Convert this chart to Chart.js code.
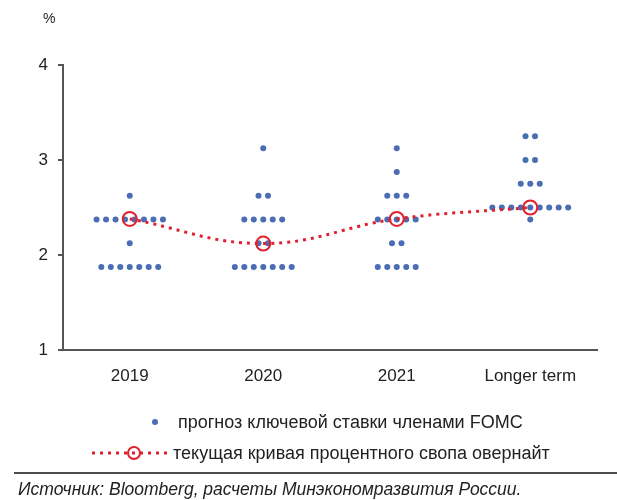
<!DOCTYPE html>
<html>
<head>
<meta charset="utf-8">
<script src="https://cdn.jsdelivr.net/npm/chart.js@4.4.1/dist/chart.umd.min.js"></script>
<style>
  html, body { margin: 0; padding: 0; background: #fff; }
  #wrap { width: 617px; height: 500px; }
</style>
</head>
<body>
<div id="wrap"><canvas id="fomc-chart"></canvas></div>
<script>
// Horizon labels on the x axis
const categories = ['2019', '2020', '2021', 'Longer term'];

// FOMC dot plot: rate levels and number of members at each level
const rates2019 = [1.875, 2.125, 2.375, 2.625];
const members2019 = [7, 1, 8, 1];
const rates2020 = [1.875, 2.125, 2.375, 2.625, 3.125];
const members2020 = [7, 2, 5, 2, 1];
const rates2021 = [1.875, 2.125, 2.375, 2.625, 2.875, 3.125];
const members2021 = [5, 2, 5, 3, 1, 1];
const ratesLonger = [2.375, 2.5, 2.75, 3.0, 3.25];
const membersLonger = [1, 9, 3, 2, 2];

// Overnight index swap curve, %
const swapCurve = [2.38, 2.12, 2.38, 2.50];

const yTicks = [1, 2, 3, 4];

const dotLabel = 'прогноз ключевой ставки членами FOMC';
const curveLabel = 'текущая кривая процентного свопа овернайт';
const sourceText = 'Источник: Bloomberg, расчеты Минэкономразвития России.';

const BLUE = '#4a6db3';
const RED = '#e0212d';
const AXIS = '#555';
const FONT = "'Liberation Sans', Arial, sans-serif";
const DOT_STEP = 0.071; // horizontal gap between dots in one row, in category units

// Spread dots of the same rate side by side around the category centre
function buildDots() {
  const groups = [
    [rates2019, members2019],
    [rates2020, members2020],
    [rates2021, members2021],
    [ratesLonger, membersLonger]
  ];
  const points = [];
  groups.forEach(([rates, members], i) => {
    rates.forEach((rate, k) => {
      const n = members[k];
      for (let j = 0; j < n; j++) {
        points.push({ x: i + (j - (n - 1) / 2) * DOT_STEP, y: rate });
      }
    });
  });
  return points;
}

// Draws the "%" unit, the legend and the source note
const extras = {
  id: 'extras',
  afterDraw(chart) {
    const ctx = chart.ctx;
    ctx.save();
    ctx.fillStyle = '#222';
    ctx.textBaseline = 'middle';
    ctx.textAlign = 'left';

    ctx.font = `14px ${FONT}`;
    ctx.fillText('%', 43, 19);

    // legend row 1: FOMC dots
    ctx.font = `18px ${FONT}`;
    ctx.fillStyle = BLUE;
    ctx.beginPath();
    ctx.arc(155, 422, 3, 0, Math.PI * 2);
    ctx.fill();
    ctx.fillStyle = '#222';
    ctx.fillText(dotLabel, 178, 423);

    // legend row 2: swap curve
    ctx.strokeStyle = RED;
    ctx.lineWidth = 3;
    ctx.setLineDash([3, 5]);
    ctx.beginPath();
    ctx.moveTo(92, 453);
    ctx.lineTo(170, 453);
    ctx.stroke();
    ctx.setLineDash([]);
    ctx.lineWidth = 2;
    ctx.beginPath();
    ctx.arc(134, 453, 6, 0, Math.PI * 2);
    ctx.stroke();
    ctx.fillText(curveLabel, 173, 454);

    // source note
    ctx.strokeStyle = '#111';
    ctx.lineWidth = 1.5;
    ctx.beginPath();
    ctx.moveTo(14, 473);
    ctx.lineTo(617, 473);
    ctx.stroke();
    ctx.font = `italic 17.5px ${FONT}`;
    ctx.fillText(sourceText, 18, 490);
    ctx.restore();
  }
};

const chart = new Chart(document.getElementById('fomc-chart'), {
  type: 'scatter',
  data: {
    datasets: [
      {
        type: 'line',
        label: curveLabel,
        data: swapCurve.map((v, i) => ({ x: i, y: v })),
        borderColor: RED,
        borderWidth: 3,
        borderDash: [3, 5],
        tension: 0.4,
        fill: false,
        pointRadius: 7,
        pointBorderWidth: 2,
        pointBorderColor: RED,
        pointBackgroundColor: 'rgba(0,0,0,0)',
        order: 0
      },
      {
        label: dotLabel,
        data: buildDots(),
        pointRadius: 3,
        backgroundColor: BLUE,
        borderWidth: 0,
        order: 1
      }
    ]
  },
  options: {
    responsive: true,
    maintainAspectRatio: false,
    animation: false,
    layout: { padding: { top: 65, right: 20, left: 0, bottom: 0 } },
    plugins: {
      legend: { display: false },
      tooltip: { enabled: false }
    },
    scales: {
      x: {
        type: 'linear',
        min: -0.5,
        max: 3.5,
        afterBuildTicks: (scale) => { scale.ticks = categories.map((c, i) => ({ value: i })); },
        afterFit: (scale) => { scale.height = 150; },
        ticks: {
          callback: (value, index) => categories[index],
          font: { family: FONT, size: 17 },
          color: '#222',
          padding: 8,
          maxRotation: 0
        },
        grid: { display: false },
        border: { color: AXIS, width: 2 }
      },
      y: {
        min: 1,
        max: 4,
        afterBuildTicks: (scale) => { scale.ticks = yTicks.map(v => ({ value: v })); },
        afterFit: (scale) => { scale.width = 63; },
        ticks: {
          font: { family: FONT, size: 17 },
          color: '#222',
          padding: 10
        },
        grid: { drawOnChartArea: false, drawTicks: true, tickLength: 5, color: AXIS, lineWidth: 2 },
        border: { color: AXIS, width: 2 }
      }
    }
  },
  plugins: [extras]
});
</script>
</body>
</html>
